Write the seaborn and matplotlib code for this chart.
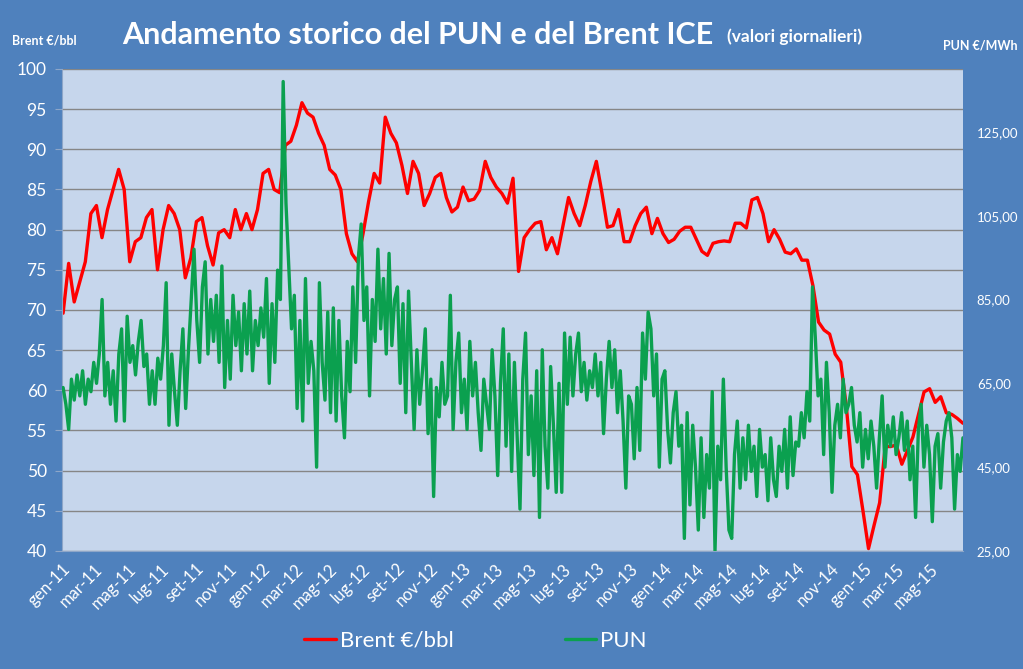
import numpy as np
import pandas as pd
import seaborn as sns
import matplotlib.pyplot as plt
import matplotlib.dates as mdates
from matplotlib.ticker import FuncFormatter, MultipleLocator

# Brent ICE, EUR/bbl - about three readings per month, Jan 2011 - Jun 2015
brent = [
    69.6, 75.8, 71.0, 73.5, 76.0, 82.0, 83.0, 79.0, 82.5, 85.0, 87.5, 85.0,
    76.0, 78.5, 79.0, 81.5, 82.5, 75.0, 80.0, 83.0, 82.0, 80.0, 74.0, 76.5,
    81.0, 81.5, 78.0, 75.6, 79.6, 80.0, 79.0, 82.5, 80.0, 82.0, 80.0, 82.5,
    87.0, 87.5, 85.0, 84.6, 90.5, 91.0, 93.0, 95.8, 94.5, 94.0, 92.0, 90.5,
    87.5, 86.8, 85.0, 79.5, 77.0, 76.0, 79.5, 83.5, 87.0, 85.8, 94.0, 92.0,
    90.8, 88.0, 84.5, 88.5, 87.0, 83.0, 84.5, 86.5, 87.0, 84.0, 82.2, 82.8,
    85.3, 83.6, 83.8, 84.9, 88.5, 86.5, 85.3, 84.5, 83.3, 86.4, 74.8, 79.0,
    80.0, 80.8, 81.0, 77.5, 79.0, 77.0, 80.5, 84.0, 82.0, 80.5, 83.0, 86.0,
    88.5, 84.6, 80.3, 80.5, 82.5, 78.5, 78.5, 80.5, 82.0, 82.8, 79.5, 81.4,
    79.5, 78.4, 78.8, 79.8, 80.3, 80.3, 78.8, 77.3, 76.8, 78.3, 78.5, 78.6,
    78.5, 80.8, 80.8, 80.2, 83.7, 84.0, 82.0, 78.5, 80.0, 78.8, 77.2, 77.0,
    77.6, 76.2, 76.2, 73.0, 68.5, 67.5, 67.0, 64.5, 63.5, 58.0, 50.5, 49.5,
    45.0, 40.3, 43.2, 46.0, 53.0, 53.0, 53.2, 50.8, 52.5, 54.2, 57.0, 59.8,
    60.2, 58.5, 59.2, 57.2, 57.0, 56.5, 55.9,
]

# PUN, EUR/MWh - six readings per month, Jan 2011 - Jun 2015
pun = [
    64, 60, 54, 66, 61, 67,   62, 68, 60, 66, 63, 70,   65, 72, 85, 62, 70, 60,
    68, 56, 72, 78, 56, 81,   70, 74, 67, 75, 80, 69,   72, 60, 68, 60, 71, 66,
    74, 89, 55, 72, 63, 55,   68, 78, 59, 73, 85, 97,   80, 70, 88, 94, 72, 85,
    75, 86, 70, 93, 64, 80,   66, 86, 74, 82, 68, 84,   72, 87, 68, 80, 74, 83,
    76, 90, 65, 84, 70, 92,   85, 137, 108, 93, 78, 86, 59, 80, 56, 90, 65, 75,
    68, 45, 89, 70, 61, 82,   58, 83, 56, 80, 62, 52,   75, 63, 88, 70, 95, 103,
    80, 88, 62, 85, 75, 97,   78, 90, 72, 96, 74, 85,   88, 65, 84, 58, 87, 70,
    54, 73, 60, 68, 78, 53,   66, 38, 64, 57, 70, 60,   62, 86, 54, 70, 77, 58,
    66, 54, 75, 62, 70, 58,   49, 66, 60, 54, 73, 62,   43, 65, 78, 50, 72, 44,
    70, 52, 35, 66, 77, 48,   62, 43, 68, 33, 73, 50,   40, 69, 55, 39, 65, 39,
    77, 60, 76, 62, 72, 77,   63, 70, 61, 68, 64, 72,   62, 70, 53, 66, 75, 64,
    73, 58, 68, 56, 40, 62,   60, 47, 64, 49, 77, 66,   82, 78, 62, 72, 45, 66,
    68, 54, 46, 58, 63, 50,   55, 28, 58, 36, 55, 45,   30, 52, 33, 48, 40, 63,
    25, 50, 42, 66, 45, 30,   28, 48, 56, 40, 52, 42,   55, 44, 50, 38, 54, 45,
    48, 37, 52, 42, 38, 50,   44, 54, 40, 57, 43, 51,   50, 58, 52, 63, 56, 88,
    76, 62, 66, 48, 70, 58,   39, 55, 60, 52, 66, 58,   60, 64, 55, 51, 58, 45,
    54, 47, 56, 50, 40, 52,   62, 45, 55, 50, 57, 48,   52, 58, 49, 56, 42, 50,
    33, 54, 60, 45, 55, 48,   32, 50, 53, 40, 51, 56,   58, 52, 35, 48, 44, 52,
]

mesi = ["gen", "feb", "mar", "apr", "mag", "giu",
        "lug", "ago", "set", "ott", "nov", "dic"]

df_brent = pd.DataFrame({
    "data": pd.date_range("2011-01-03", "2015-06-30", periods=len(brent)),
    "valore": brent})
df_pun = pd.DataFrame({
    "data": pd.date_range("2011-01-03", "2015-06-30", periods=len(pun)),
    "valore": pun})

bg = "#4F81BD"
sns.set_style("white")
plt.rcParams["font.family"] = ["Lato", "DejaVu Sans"]

fig = plt.figure(figsize=(10.23, 6.69), dpi=100, facecolor=bg)
ax = fig.add_axes([0.0606, 0.1764, 0.8807, 0.7205])
ax.set_facecolor("#C6D6EC")
ax2 = ax.twinx()
ax2.patch.set_visible(False)

sns.lineplot(data=df_brent, x="data", y="valore", ax=ax, color="#FF0000",
             linewidth=2.4, label="Brent €/bbl", legend=False)
sns.lineplot(data=df_pun, x="data", y="valore", ax=ax2, color="#0BA04F",
             linewidth=2.4, label="PUN", legend=False)

ax.set_ylim(40, 100)
ax.yaxis.set_major_locator(MultipleLocator(5))
ax2.set_ylim(25, 140)
ax2.set_yticks([25, 45, 65, 85, 105, 125])
ax2.yaxis.set_major_formatter(FuncFormatter(lambda v, p: f"{v:.2f}".replace(".", ",")))

ax.set_xlim(pd.Timestamp("2011-01-01"), pd.Timestamp("2015-06-30"))
ax.xaxis.set_major_locator(mdates.MonthLocator(bymonth=[1, 3, 5, 7, 9, 11]))
ax.xaxis.set_minor_locator(mdates.MonthLocator())
ax.xaxis.set_major_formatter(FuncFormatter(
    lambda v, p: mesi[mdates.num2date(v).month - 1] + "-" + mdates.num2date(v).strftime("%y")))

ax.grid(axis="y", color="#868686", linewidth=1)
ax.set_axisbelow(True)
ax.set_xlabel("")
ax.set_ylabel("")
ax2.set_ylabel("")

for a in (ax, ax2):
    for s in a.spines.values():
        s.set_visible(False)
ax.spines["bottom"].set_visible(True)
ax.spines["bottom"].set_color("#8EA6C8")
ax.spines["left"].set_visible(True)
ax.spines["left"].set_color("#8EA6C8")

ax.tick_params(axis="y", colors="white", labelsize=12.5, length=5, pad=6)
ax.tick_params(axis="y", color="#8EA6C8")
ax.tick_params(axis="x", which="major", colors="white", labelsize=12, length=5, pad=2)
ax.tick_params(axis="x", which="both", color="#7F9CC8")
ax.tick_params(axis="x", which="minor", length=5)
ax2.tick_params(axis="y", colors="white", labelsize=9.5, length=0, pad=10)
plt.setp(ax.get_xticklabels(), rotation=45, ha="right", rotation_mode="anchor")

fig.text(0.119, 0.947, "Andamento storico del PUN e del Brent ICE", color="white",
         fontsize=22, fontweight="bold", va="center")
fig.text(0.711, 0.945, "(valori giornalieri)", color="white",
         fontsize=12.5, fontweight="bold", va="center")
fig.text(0.012, 0.940, "Brent €/bbl", color="white", fontsize=9, fontweight="bold", va="center")
fig.text(0.995, 0.932, "PUN €/MWh", color="white", fontsize=9, fontweight="bold",
         va="center", ha="right")

lines = ax.get_lines() + ax2.get_lines()
fig.legend(lines, [l.get_label() for l in lines], loc="center", ncol=2,
           bbox_to_anchor=(0.465, 0.042), frameon=False, labelcolor="white",
           fontsize=16, handlelength=1.4, handletextpad=0.2, columnspacing=5)

plt.savefig("out.png", dpi=100, facecolor=bg)
